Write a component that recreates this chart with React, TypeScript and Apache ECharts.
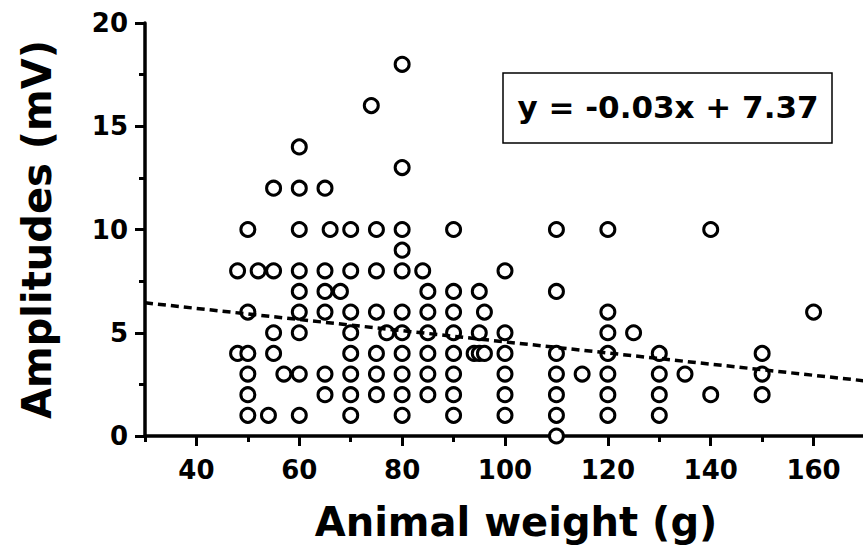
import React, { useEffect, useRef } from "react";
import * as echarts from "echarts";

// Weight columns (g) and the amplitudes (mV) measured at each weight
const columnWeights = [48, 50, 52, 54, 55, 57, 60, 65, 66, 68, 70, 74, 75, 77, 80, 84, 85, 90, 94, 95, 96, 100, 110, 115, 120, 125, 130, 135, 140, 150, 160];
const columnAmplitudes = [
  [8, 4],
  [10, 6, 4, 3, 2, 1],
  [8],
  [1],
  [12, 8, 5, 4],
  [3],
  [14, 12, 10, 8, 7, 6, 5, 3, 1],
  [12, 8, 7, 6, 3, 2],
  [10],
  [7],
  [10, 8, 6, 5, 4, 3, 2, 1],
  [16],
  [10, 8, 6, 4, 3, 2],
  [5],
  [18, 13, 10, 9, 8, 6, 5, 4, 3, 2, 1],
  [8],
  [7, 6, 5, 4, 3, 2],
  [10, 7, 6, 5, 4, 3, 2, 1],
  [4],
  [7, 5, 4],
  [6, 4],
  [8, 5, 4, 3, 2, 1],
  [10, 7, 4, 3, 2, 1, 0],
  [3],
  [10, 6, 5, 4, 3, 2, 1],
  [5],
  [4, 3, 2, 1],
  [3],
  [10, 2],
  [4, 3, 2],
  [6],
];

// Regression line as drawn
const trendWeights = [30, 170];
const trendAmplitudes = [6.45, 2.67];

// Axis ticks
const xMajorTicks = [40, 60, 80, 100, 120, 140, 160];
const xMinorTicks = [30, 50, 70, 90, 110, 130, 150, 170];
const xRange = [30, 170];
const yRange = [0, 20];
const yInterval = 5;

const equationText = "y = -0.03x + 7.37";
const xTitle = "Animal weight (g)";
const yTitle = "Amplitudes (mV)";

const FONT = "'DejaVu Sans', sans-serif";

export default function App() {
  const ref = useRef<HTMLDivElement>(null);

  useEffect(() => {
    if (!ref.current) return;
    const chart = echarts.init(ref.current, null, { renderer: "svg" });

    const points: number[][] = [];
    columnWeights.forEach((w, i) => {
      columnAmplitudes[i].forEach((a) => points.push([w, a]));
    });
    const trend = trendWeights.map((w, i) => [w, trendAmplitudes[i]]);

    const tickLine = { color: "#000", width: 3 };
    const labelStyle = {
      color: "#000",
      fontFamily: FONT,
      fontWeight: "bold" as const,
      fontSize: 26,
    };

    chart.setOption({
      animation: false,
      backgroundColor: "#fff",
      grid: { left: 145, top: 23, width: 720, height: 414, containLabel: false },
      xAxis: [
        {
          type: "value",
          min: xRange[0],
          max: xRange[1],
          position: "bottom",
          axisLine: { show: true, onZero: false, lineStyle: { color: "#000", width: 3.5 } },
          axisTick: { show: true, customValues: xMajorTicks, length: 10, lineStyle: tickLine },
          axisLabel: { show: true, customValues: xMajorTicks, margin: 21, ...labelStyle },
          splitLine: { show: false },
          name: xTitle,
          nameLocation: "middle",
          nameGap: 66,
          nameTextStyle: {
            color: "#000",
            fontFamily: FONT,
            fontWeight: "bold",
            fontSize: 40,
            padding: [0, 0, 0, 22],
          },
        },
        {
          type: "value",
          min: xRange[0],
          max: xRange[1],
          position: "bottom",
          axisLine: { show: false, onZero: false },
          axisTick: { show: true, customValues: xMinorTicks, length: 6, lineStyle: tickLine },
          axisLabel: { show: false },
          splitLine: { show: false },
        },
      ],
      yAxis: {
        type: "value",
        min: yRange[0],
        max: yRange[1],
        interval: yInterval,
        axisLine: { show: true, onZero: false, lineStyle: { color: "#000", width: 3.5 } },
        axisTick: { show: true, length: 10, lineStyle: tickLine },
        minorTick: { show: true, splitNumber: 2, length: 6, lineStyle: tickLine },
        axisLabel: { margin: 17, ...labelStyle },
        splitLine: { show: false },
        name: yTitle,
        nameLocation: "middle",
        nameGap: 88,
        nameTextStyle: {
          color: "#000",
          fontFamily: FONT,
          fontWeight: "bold",
          fontSize: 40,
        },
      },
      series: [
        {
          type: "scatter",
          data: points,
          symbol: "circle",
          symbolSize: 14,
          itemStyle: { color: "#fff", borderColor: "#000", borderWidth: 3, opacity: 1 },
          z: 2,
        },
        {
          type: "line",
          data: trend,
          symbol: "none",
          lineStyle: { color: "#000", width: 3.5, type: [8, 5] },
          z: 3,
        },
      ],
      graphic: [
        {
          type: "rect",
          shape: { x: 503, y: 73, width: 329, height: 70 },
          style: { fill: "#fff", stroke: "#000", lineWidth: 1.5 },
          z: 10,
        },
        {
          type: "text",
          x: 668,
          y: 107,
          style: {
            text: equationText,
            fill: "#000",
            fontFamily: FONT,
            fontWeight: "bold",
            fontSize: 31,
            align: "center",
            verticalAlign: "middle",
          },
          z: 11,
        },
      ],
    });

    return () => chart.dispose();
  }, []);

  return (
    <div
      style={{
        position: "fixed",
        left: 0,
        top: 0,
        width: 863,
        height: 547,
        overflow: "hidden",
        background: "#fff",
      }}
    >
      <div ref={ref} style={{ width: 870, height: 547 }} />
    </div>
  );
}
